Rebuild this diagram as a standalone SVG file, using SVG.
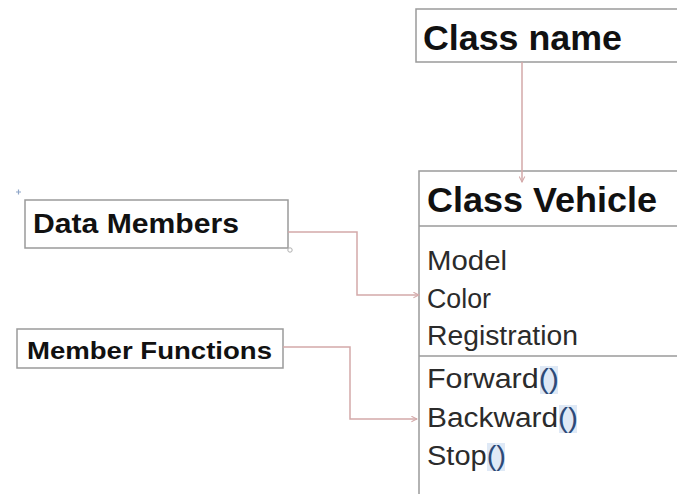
<svg xmlns="http://www.w3.org/2000/svg" width="677" height="494" viewBox="0 0 677 494">
<defs>
<style>
.box{fill:#fff;stroke:#9a9a9a;stroke-width:1.5}
.sep{stroke:#9a9a9a;stroke-width:1.5}
.conn{fill:none;stroke:#d3a9a9;stroke-width:1.5}
.title{font-family:"Liberation Sans",Arial,sans-serif;font-weight:bold;fill:#111}
.item{font-family:"Liberation Sans",Arial,sans-serif;font-size:27px;fill:#2b2b2b}
.par{fill:#2d4a78}
.hl{fill:#dfe9f6}
</style>
<marker id="arr" viewBox="0 0 10 10" refX="9" refY="5" markerWidth="7" markerHeight="7" orient="auto" markerUnits="userSpaceOnUse">
<path d="M1,1 L9,5 L1,9" fill="none" stroke="#d3a9a9" stroke-width="1.5"/>
</marker>
</defs>
<rect width="677" height="494" fill="#fff"/>

<g id="class-name">
<rect class="box" x="416" y="9" width="270" height="53"/>
<text class="title" x="423" y="50" font-size="35" textLength="199" lengthAdjust="spacingAndGlyphs">Class name</text>
</g>

<g id="class-vehicle">
<rect class="box" x="419" y="171" width="270" height="340"/>
<line class="sep" x1="419" y1="226" x2="677" y2="226"/>
<line class="sep" x1="419" y1="356" x2="677" y2="356"/>
<text class="title" x="427" y="212" font-size="35" textLength="230" lengthAdjust="spacingAndGlyphs">Class Vehicle</text>
<text class="item" x="427" y="270" textLength="80" lengthAdjust="spacingAndGlyphs">Model</text>
<text class="item" x="427" y="308" textLength="64" lengthAdjust="spacingAndGlyphs">Color</text>
<text class="item" x="427" y="345" textLength="151" lengthAdjust="spacingAndGlyphs">Registration</text>
<rect class="hl" x="540" y="366" width="18" height="28"/>
<rect class="hl" x="559" y="405" width="18" height="28"/>
<rect class="hl" x="487" y="443" width="18" height="28"/>
<text class="item" x="427" y="388" textLength="132" lengthAdjust="spacingAndGlyphs">Forward<tspan class="par">()</tspan></text>
<text class="item" x="427" y="427" textLength="151" lengthAdjust="spacingAndGlyphs">Backward<tspan class="par">()</tspan></text>
<text class="item" x="427" y="465" textLength="79" lengthAdjust="spacingAndGlyphs">Stop<tspan class="par">()</tspan></text>
</g>

<g id="data-members">
<rect class="box" x="25" y="200" width="263" height="48"/>
<text class="title" x="33" y="233" font-size="28" textLength="206" lengthAdjust="spacingAndGlyphs">Data Members</text>
<path d="M16,192 h5 M18.5,189.5 v5" stroke="#8fa6c8" stroke-width="1.2"/>
<circle cx="290" cy="250" r="2.2" fill="#fff" stroke="#b0b0b0" stroke-width="1"/>
</g>

<g id="member-functions">
<rect class="box" x="17" y="329" width="266" height="39"/>
<text class="title" x="27" y="359" font-size="24" textLength="245" lengthAdjust="spacingAndGlyphs">Member Functions</text>
</g>

<g id="connectors">
<path class="conn" d="M522,62 V182" marker-end="url(#arr)"/>
<path class="conn" d="M288,232 H357 V295 H419" marker-end="url(#arr)"/>
<path class="conn" d="M283,347 H350 V419 H417" marker-end="url(#arr)"/>
</g>
</svg>
